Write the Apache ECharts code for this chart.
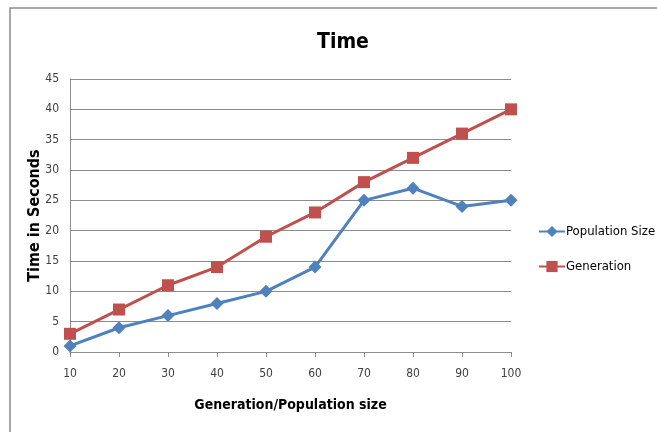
<!DOCTYPE html>
<html><head><meta charset="utf-8">
<script src="https://cdn.jsdelivr.net/npm/echarts@6/dist/echarts.min.js"></script>
<style>html,body{margin:0;padding:0;background:#fff}#c{width:657px;height:432px}</style>
</head><body><div id="c"></div>
<script>
var categories = ['10','20','30','40','50','60','70','80','90','100'];
var populationSize = [1,4,6,8,10,14,25,27,24,25];
var generation = [3,7,11,14,19,23,28,32,36,40];
var FONT = "'Liberation Sans Narrow', 'DejaVu Sans Condensed', 'Roboto', sans-serif";
var chart = echarts.init(document.getElementById('c'));
chart.setOption({
  animation:false,
  backgroundColor:'#fff',
  graphic:[{type:'rect',shape:{x:10,y:8,width:700,height:500},style:{fill:'none',stroke:'#8c8c8c',lineWidth:1.5},silent:true}],
  title:{text:'Time',left:338,top:27,textAlign:'center',textStyle:{fontFamily:FONT,fontSize:21,fontWeight:'bold',color:'#000'}},
  legend:{orient:'vertical',left:533,top:220,itemGap:22,itemWidth:26,itemHeight:14,
    textStyle:{fontFamily:FONT,fontSize:13,color:'#000',padding:[0,0,0,-4]},
    data:['Population Size','Generation']},
  grid:{left:70,right:146,top:79,bottom:80,containLabel:false},
  xAxis:{type:'category',data:categories,boundaryGap:false,
    name:'Generation/Population size',nameLocation:'middle',nameGap:46,
    nameTextStyle:{fontFamily:FONT,fontSize:14,fontWeight:'bold',color:'#000'},
    axisLine:{lineStyle:{color:'#8c8c8c',width:1}},
    axisTick:{show:true,length:5,lineStyle:{color:'#8c8c8c'}},
    axisLabel:{fontFamily:FONT,fontSize:12,color:'#404040',margin:16},
    splitLine:{show:false}},
  yAxis:{type:'value',min:0,max:45,interval:5,
    name:'Time in Seconds',nameLocation:'middle',nameGap:27,nameRotate:90,nameMoveOverlap:false,
    nameTextStyle:{fontFamily:FONT,fontSize:16,fontWeight:'bold',color:'#000'},
    axisLine:{show:true,lineStyle:{color:'#8c8c8c',width:1}},
    axisTick:{show:false},
    axisLabel:{fontFamily:FONT,fontSize:12,color:'#404040',margin:11},
    splitLine:{lineStyle:{color:'#8c8c8c',width:1}}},
  series:[
    {name:'Population Size',type:'line',data:populationSize,symbol:'diamond',symbolSize:13,
      lineStyle:{color:'#4F81BD',width:3},itemStyle:{color:'#4F81BD'}},
    {name:'Generation',type:'line',data:generation,symbol:'rect',symbolSize:12,
      lineStyle:{color:'#C0504D',width:3},itemStyle:{color:'#C0504D'}}
  ]
});
</script></body></html>
